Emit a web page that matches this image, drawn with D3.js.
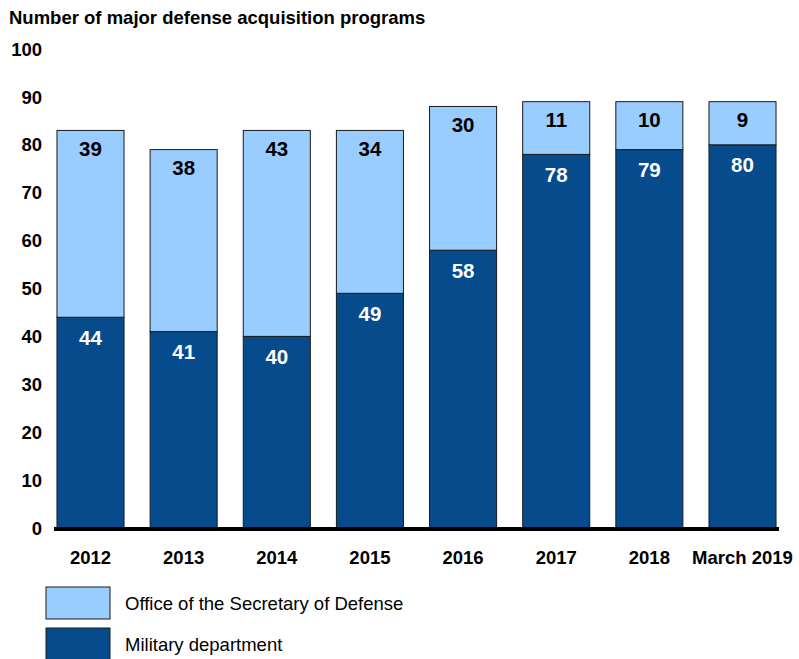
<!DOCTYPE html>
<html>
<head>
<meta charset="utf-8">
<script src="https://cdn.jsdelivr.net/npm/d3@7"></script>
<style>
  body { margin: 0; background: #fff; }
  text { font-family: "Liberation Sans", Arial, sans-serif; }
</style>
</head>
<body>
<div id="chart"></div>
<script>
// values
var years = ["2012", "2013", "2014", "2015", "2016", "2017", "2018", "March 2019"];
var military = [44, 41, 40, 49, 58, 78, 79, 80];
var osd = [39, 38, 43, 34, 30, 11, 10, 9];
var yTicks = [0, 10, 20, 30, 40, 50, 60, 70, 80, 90, 100];

var width = 799, height = 659;
var margin = { top: 49, left: 56, right: 22 };
var plotBottom = 528;

var svg = d3.select("#chart").append("svg")
  .attr("width", width).attr("height", height);

var x = d3.scaleBand().domain(years)
  .range([margin.left - 13, width - margin.right + 13]).paddingInner(0.28).paddingOuter(0.15);
var y = d3.scaleLinear().domain([0, 100]).range([plotBottom, margin.top]);

var lightBlue = "#99ccff", darkBlue = "#064c8d";

// title
svg.append("text").attr("x", 9).attr("y", 24)
  .attr("font-size", 18.5).attr("font-weight", "bold").text("Number of major defense acquisition programs");

// y tick labels
svg.selectAll(".ytick").data(yTicks).join("text")
  .attr("class", "ytick")
  .attr("x", 42).attr("y", function (d) { return y(d); })
  .attr("dy", "0.36em")
  .attr("text-anchor", "end")
  .attr("font-size", 18.5).attr("font-weight", "bold")
  .text(function (d) { return d; });

var data = years.map(function (yr, i) {
  return { year: yr, mil: military[i], osd: osd[i] };
});

var g = svg.selectAll(".bar").data(data).join("g").attr("class", "bar");

// military segment
g.append("rect")
  .attr("x", function (d) { return x(d.year); })
  .attr("y", function (d) { return y(d.mil); })
  .attr("width", x.bandwidth())
  .attr("height", function (d) { return y(0) - y(d.mil); })
  .attr("fill", darkBlue).attr("stroke", "#1a1a1a").attr("stroke-width", 1);

// OSD segment
g.append("rect")
  .attr("x", function (d) { return x(d.year); })
  .attr("y", function (d) { return y(d.mil + d.osd); })
  .attr("width", x.bandwidth())
  .attr("height", function (d) { return y(d.mil) - y(d.mil + d.osd); })
  .attr("fill", lightBlue).attr("stroke", "#1a1a1a").attr("stroke-width", 1);

g.append("text")
  .attr("x", function (d) { return x(d.year) + x.bandwidth() / 2; })
  .attr("y", function (d) { return y(d.mil + d.osd) + 18; })
  .attr("dy", "0.36em").attr("text-anchor", "middle")
  .attr("font-size", 20.5).attr("font-weight", "bold").attr("fill", "#000")
  .text(function (d) { return d.osd; });

g.append("text")
  .attr("x", function (d) { return x(d.year) + x.bandwidth() / 2; })
  .attr("y", function (d) { return y(d.mil) + 20; })
  .attr("dy", "0.36em").attr("text-anchor", "middle")
  .attr("font-size", 20.5).attr("font-weight", "bold").attr("fill", "#fff")
  .text(function (d) { return d.mil; });

// baseline
svg.append("line")
  .attr("x1", 54).attr("x2", 779)
  .attr("y1", plotBottom + 1).attr("y2", plotBottom + 1)
  .attr("stroke", "#000").attr("stroke-width", 4);

// x labels
svg.selectAll(".xlab").data(years).join("text")
  .attr("class", "xlab")
  .attr("x", function (d) { return x(d) + x.bandwidth() / 2; })
  .attr("y", 564)
  .attr("text-anchor", "middle")
  .attr("font-size", 18.5).attr("font-weight", "bold")
  .text(function (d) { return d; });

// legend
var legend = [
  { label: "Office of the Secretary of Defense", color: lightBlue, y: 587 },
  { label: "Military department", color: darkBlue, y: 628 }
];
var lg = svg.selectAll(".legend").data(legend).join("g").attr("class", "legend");
lg.append("rect")
  .attr("x", 46).attr("y", function (d) { return d.y; })
  .attr("width", 64).attr("height", 32)
  .attr("fill", function (d) { return d.color; })
  .attr("stroke", "#1a1a1a").attr("stroke-width", 1);
lg.append("text")
  .attr("x", 125).attr("y", function (d) { return d.y + 16; })
  .attr("dy", "0.36em")
  .attr("font-size", 18.5)
  .text(function (d) { return d.label; });
</script>
</body>
</html>
